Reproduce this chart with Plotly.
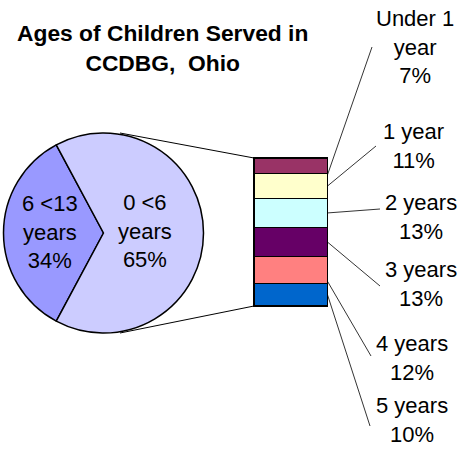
import plotly.graph_objects as go
import numpy as np

# ---------------- data ----------------
title_text = "Ages of Children Served in<br>CCDBG,\u00a0 Ohio"
pie_labels = ["6 <13<br>years", "0 <6<br>years"]
pie_values = [34, 65]
pie_colors = ["#9999FF", "#CCCCFF"]

bar_labels = ["Under 1<br>year", "1 year", "2 years", "3 years", "4 years", "5 years"]
bar_values = [7, 11, 13, 13, 12, 10]
bar_colors = ["#993366", "#FFFFCC", "#CCFFFF", "#660066", "#FF8080", "#0066CC"]

# ---------------- layout constants (pixels) ----------------
W, H = 459, 449
FONT = "Liberation Sans, Arial, sans-serif"
FS = 22

# pie geometry
pcx, pcy, pr = 103.5, 233, 100
# bar geometry
bar_l, bar_r, bar_b, bar_t = 254, 327.5, 306, 158
total = sum(bar_values)
ppu_y = (bar_b - bar_t) / total
bar_w_px = bar_r - bar_l
bar_cx = (bar_l + bar_r) / 2

x_range = [-bar_cx / bar_w_px, (W - bar_cx) / bar_w_px]
y_range = [-(H - bar_b) / ppu_y, total + bar_t / ppu_y]


def to_dx(px):
    return (px - bar_cx) / bar_w_px


def to_dy(py):
    return (bar_b - py) / ppu_y


fig = go.Figure()

# pie
angle = sum(pie_values)
first_span = pie_values[0] / angle * 360
fig.add_trace(go.Pie(
    values=pie_values,
    labels=[l.replace("<br>", " ") for l in pie_labels],
    sort=False,
    direction="clockwise",
    rotation=270 - first_span / 2 - 360,
    marker=dict(colors=pie_colors, line=dict(color="black", width=1.5)),
    textinfo="none",
    hoverinfo="skip",
    showlegend=False,
    domain=dict(x=[(pcx - pr) / W, (pcx + pr) / W],
                y=[1 - (pcy + pr) / H, 1 - (pcy - pr) / H]),
))

# stacked bar (bottom to top: 5 years ... Under 1)
for lab, val, col in reversed(list(zip(bar_labels, bar_values, bar_colors))):
    fig.add_trace(go.Bar(
        x=[0], y=[val], width=1,
        marker=dict(color=col, line=dict(color="black", width=1.5)),
        name=lab, showlegend=False, hoverinfo="skip",
    ))

shapes = []
# connector lines pie -> bar
for (px0, py0, py1) in [(120, 133, bar_t), (120, 333, bar_b)]:
    shapes.append(dict(type="line", xref="x", yref="y",
                       x0=to_dx(px0), y0=to_dy(py0), x1=-0.5, y1=to_dy(py1),
                       line=dict(color="black", width=1)))

# bar segment mids
cum_top = np.cumsum(bar_values[::-1])[::-1]  # top of each segment (order as bar_labels)
mids = [ct - v / 2 for ct, v in zip(cum_top, bar_values)]

# label placements (pixels): text center x, text center y, leader end x, leader end y
label_pos = [
    (415, 47, 372, 47),
    (413, 146, 376, 146),
    (421, 217, 380, 209),
    (421, 284, 380, 286),
    (412, 358, 371, 356),
    (412, 420, 370, 426),
]
start_offsets = [-4, 0, 0, 0, -5, 0]

annotations = []
for lab, val, mid, (tx, ty, ex, ey), so in zip(bar_labels, bar_values, mids, label_pos, start_offsets):
    shapes.append(dict(type="line", xref="x", yref="y",
                       x0=0.5, y0=mid + so, x1=to_dx(ex), y1=to_dy(ey),
                       line=dict(color="black", width=0.8)))
    annotations.append(dict(xref="paper", yref="paper", x=tx / W, y=1 - ty / H,
                            text=f"{lab}<br>{val}%", showarrow=False,
                            xanchor="center", yanchor="middle", align="center",
                            font=dict(family=FONT, size=FS, color="black")))

# pie labels
for lab, val, (tx, ty) in zip(pie_labels, pie_values, [(50, 232), (145, 231)]):
    annotations.append(dict(xref="paper", yref="paper", x=tx / W, y=1 - ty / H,
                            text=f"{lab}<br>{val}%", showarrow=False,
                            xanchor="center", yanchor="middle", align="center",
                            font=dict(family=FONT, size=FS, color="black")))

# title
annotations.append(dict(xref="paper", yref="paper", x=162.5 / W, y=1 - 47.5 / H,
                        text=f"<b>{title_text}</b>", showarrow=False,
                        xanchor="center", yanchor="middle", align="center",
                        font=dict(family=FONT, size=22.8, color="black")))

fig.update_layout(
    width=W, height=H,
    margin=dict(l=0, r=0, t=0, b=0),
    paper_bgcolor="white", plot_bgcolor="white",
    barmode="stack",
    xaxis=dict(range=x_range, visible=False, fixedrange=True),
    yaxis=dict(range=y_range, visible=False, fixedrange=True),
    shapes=shapes,
    annotations=annotations,
)

fig.write_html(
    "out.html",
    config={"displayModeBar": False},
    post_script="document.body.style.margin='0';document.body.style.overflow='hidden';",
)
